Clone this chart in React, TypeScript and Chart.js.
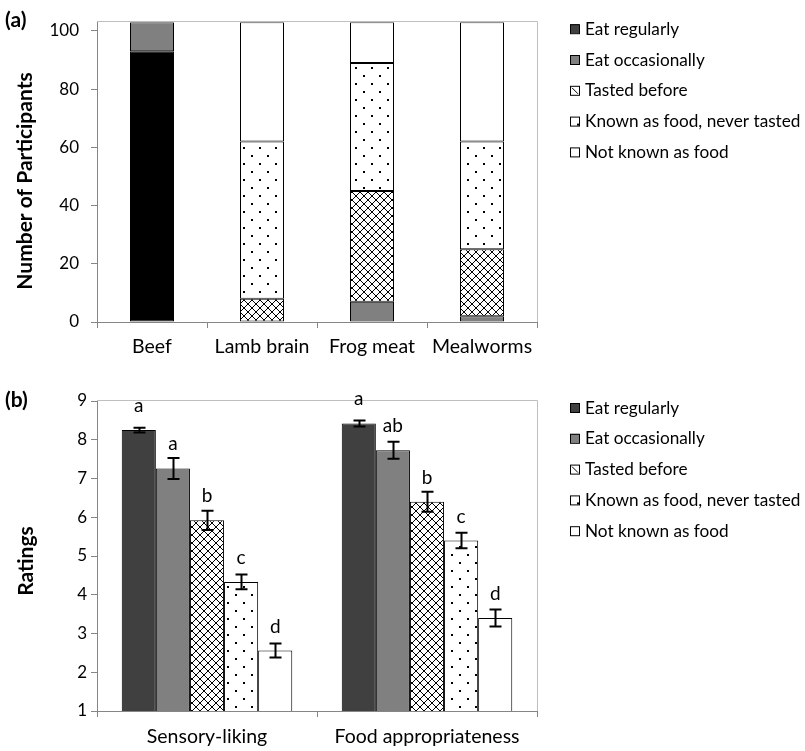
import React, { useEffect, useRef } from 'react';
import { Chart, registerables } from 'chart.js';

Chart.register(...registerables);

// ---------- Data: panel (a) ----------
const categoriesA = ['Beef', 'Lamb brain', 'Frog meat', 'Mealworms'];
const eatRegularlyA = [93, 0, 0, 0];
const eatOccasionallyA = [10, 0, 7, 2];
const tastedBeforeA = [0, 8, 38, 23];
const knownNeverTastedA = [0, 54, 44, 37];
const notKnownA = [0, 41, 14, 41];
const yTicksA = [0, 20, 40, 60, 80, 100];

// ---------- Data: panel (b) ----------
const categoriesB = ['Sensory-liking', 'Food appropriateness'];
const eatRegularlyB = [8.25, 8.42];
const eatOccasionallyB = [7.26, 7.73];
const tastedBeforeB = [5.92, 6.4];
const knownNeverTastedB = [4.33, 5.4];
const notKnownB = [2.56, 3.4];
const errRegularlyB = [0.06, 0.08];
const errOccasionallyB = [0.27, 0.22];
const errTastedB = [0.25, 0.26];
const errKnownB = [0.19, 0.2];
const errNotKnownB = [0.18, 0.22];
const lettersRegularlyB = ['a', 'a'];
const lettersOccasionallyB = ['a', 'ab'];
const lettersTastedB = ['b', 'b'];
const lettersKnownB = ['c', 'c'];
const lettersNotKnownB = ['d', 'd'];

const seriesLabels = [
  'Eat regularly',
  'Eat occasionally',
  'Tasted before',
  'Known as food, never tasted',
  'Not known as food',
];

const FONT = 'Lato, "Open Sans", sans-serif';
const TICK_SIZE = 17;
const CAT_SIZE = 19.5;
const LEGEND_SIZE = 17.2;
const TITLE_SIZE = 21;
const LETTER_SIZE = 19;
const AXIS_COLOR = '#868686';
const BORDER_COLOR = '#bfbfbf';

function makeCrossPattern(): CanvasPattern {
  const c = document.createElement('canvas');
  c.width = 8;
  c.height = 8;
  const g = c.getContext('2d')!;
  g.fillStyle = '#fff';
  g.fillRect(0, 0, 8, 8);
  g.fillStyle = '#000';
  for (let i = 0; i < 8; i++) {
    g.fillRect(i, i, 1, 1);
    g.fillRect(7 - i, i, 1, 1);
  }
  return g.createPattern(c, 'repeat')!;
}

function makeDotPattern(): CanvasPattern {
  const c = document.createElement('canvas');
  c.width = 16;
  c.height = 16;
  const g = c.getContext('2d')!;
  g.fillStyle = '#fff';
  g.fillRect(0, 0, 16, 16);
  g.fillStyle = '#000';
  g.fillRect(3, 3, 2, 2);
  g.fillRect(11, 11, 2, 2);
  return g.createPattern(c, 'repeat')!;
}

type LegendKind = 'solid' | 'tasted' | 'known' | 'none';

function legendPlugin(fills: string[], kinds: LegendKind[]) {
  return {
    id: 'customLegend',
    afterDraw(chart: any) {
      const { ctx, chartArea } = chart;
      const x0 = chartArea.right + 33;
      const y0 = chartArea.top + 2;
      ctx.save();
      seriesLabels.forEach((label, k) => {
        const y = y0 + k * 30.8;
        ctx.fillStyle = fills[k];
        ctx.fillRect(x0, y, 9, 9);
        ctx.strokeStyle = '#000';
        ctx.lineWidth = 1;
        ctx.strokeRect(x0 + 0.5, y + 0.5, 9, 9);
        if (kinds[k] === 'tasted') {
          ctx.beginPath();
          ctx.moveTo(x0 + 2, y + 2);
          ctx.lineTo(x0 + 8, y + 8);
          ctx.stroke();
        } else if (kinds[k] === 'known') {
          ctx.fillStyle = '#000';
          ctx.fillRect(x0 + 7, y + 7, 2, 2);
        }
        ctx.fillStyle = '#000';
        ctx.font = `${LEGEND_SIZE}px ${FONT}`;
        ctx.textAlign = 'left';
        ctx.textBaseline = 'middle';
        ctx.fillText(label, x0 + 15, y + 5);
      });
      ctx.restore();
    },
  };
}

function framePlugin(panel: string, panelY: number, title: string, titleX: number, titleY: number) {
  return {
    id: 'frameAndTitles',
    beforeDatasetsDraw(chart: any) {
      const { ctx, chartArea } = chart;
      ctx.save();
      ctx.strokeStyle = BORDER_COLOR;
      ctx.lineWidth = 1;
      ctx.beginPath();
      ctx.moveTo(chartArea.left, Math.round(chartArea.top) - 0.5);
      ctx.lineTo(Math.round(chartArea.right) + 0.5, Math.round(chartArea.top) - 0.5);
      ctx.lineTo(Math.round(chartArea.right) + 0.5, chartArea.bottom);
      ctx.stroke();
      ctx.restore();
    },
    afterDraw(chart: any) {
      const { ctx } = chart;
      ctx.save();
      ctx.fillStyle = '#000';
      ctx.font = `bold ${TITLE_SIZE}px ${FONT}`;
      ctx.textAlign = 'left';
      ctx.textBaseline = 'middle';
      ctx.fillText(panel, 5, panelY);
      ctx.translate(titleX, titleY);
      ctx.rotate(-Math.PI / 2);
      ctx.textAlign = 'center';
      ctx.fillText(title, 0, 0);
      ctx.restore();
    },
  };
}

const errorsB = [errRegularlyB, errOccasionallyB, errTastedB, errKnownB, errNotKnownB];
const lettersB = [lettersRegularlyB, lettersOccasionallyB, lettersTastedB, lettersKnownB, lettersNotKnownB];

const errorBarPlugin = {
  id: 'errorBars',
  afterDatasetsDraw(chart: any) {
    const { ctx } = chart;
    const ys = chart.scales.y;
    ctx.save();
    chart.data.datasets.forEach((ds: any, i: number) => {
      const meta = chart.getDatasetMeta(i);
      meta.data.forEach((bar: any, j: number) => {
        const v = ds.data[j];
        const e = errorsB[i][j];
        const x = Math.round(bar.x) + 0.5;
        const yTop = ys.getPixelForValue(v + e);
        const yBot = ys.getPixelForValue(v - e);
        ctx.strokeStyle = '#000';
        ctx.lineWidth = 2;
        ctx.beginPath();
        ctx.moveTo(x, yTop);
        ctx.lineTo(x, yBot);
        ctx.moveTo(x - 6, yTop);
        ctx.lineTo(x + 6, yTop);
        ctx.moveTo(x - 6, yBot);
        ctx.lineTo(x + 6, yBot);
        ctx.stroke();
        ctx.fillStyle = '#000';
        ctx.font = `${LETTER_SIZE}px ${FONT}`;
        ctx.textAlign = 'center';
        ctx.textBaseline = 'alphabetic';
        ctx.fillText(lettersB[i][j], bar.x, ys.getPixelForValue(v) - 18);
      });
    });
    ctx.restore();
  },
};

function axisCommon() {
  return {
    grid: { drawOnChartArea: false, drawTicks: true, tickLength: 6, color: AXIS_COLOR, lineWidth: 1 },
    border: { color: AXIS_COLOR, width: 1 },
  };
}

export default function App() {
  const refA = useRef<HTMLCanvasElement>(null);
  const refB = useRef<HTMLCanvasElement>(null);

  useEffect(() => {
    const cross = makeCrossPattern();
    const dots = makeDotPattern();

    const barBase = { borderColor: '#000', borderWidth: 1, borderSkipped: false };

    const chartA = new Chart(refA.current!, {
      type: 'bar',
      data: {
        labels: categoriesA,
        datasets: [
          { label: seriesLabels[0], data: eatRegularlyA, backgroundColor: '#000', ...barBase },
          { label: seriesLabels[1], data: eatOccasionallyA, backgroundColor: '#808080', ...barBase },
          { label: seriesLabels[2], data: tastedBeforeA, backgroundColor: cross, ...barBase },
          { label: seriesLabels[3], data: knownNeverTastedA, backgroundColor: dots, ...barBase },
          { label: seriesLabels[4], data: notKnownA, backgroundColor: '#fff', ...barBase },
        ] as any,
      },
      options: {
        responsive: false,
        animation: false,
        layout: { padding: { left: 0, top: 21, right: 268, bottom: 0 } },
        datasets: { bar: { barPercentage: 0.4, categoryPercentage: 1 } },
        plugins: { legend: { display: false }, tooltip: { enabled: false } },
        scales: {
          x: {
            stacked: true,
            ...axisCommon(),
            grid: { ...axisCommon().grid, offset: true },
            ticks: { color: '#000', font: { family: FONT, size: CAT_SIZE }, padding: 7, maxRotation: 0 },
            afterFit: (s: any) => { s.height = 53; },
          },
          y: {
            stacked: true,
            min: 0,
            max: 103,
            ...axisCommon(),
            ticks: { color: '#000', font: { family: FONT, size: TICK_SIZE }, padding: 12, stepSize: 20 },
            afterBuildTicks: (s: any) => { s.ticks = yTicksA.map((v) => ({ value: v })); },
            afterFit: (s: any) => { s.width = 97; },
          },
        },
      } as any,
      plugins: [
        framePlugin('(a)', 20, 'Number of Participants', 25, 181),
        legendPlugin(['#404040', '#808080', '#fff', '#fff', '#fff'], ['solid', 'solid', 'tasted', 'known', 'none']),
      ],
    });

    const chartB = new Chart(refB.current!, {
      type: 'bar',
      data: {
        labels: categoriesB,
        datasets: [
          { label: seriesLabels[0], data: eatRegularlyB, backgroundColor: '#404040', ...barBase },
          { label: seriesLabels[1], data: eatOccasionallyB, backgroundColor: '#808080', ...barBase },
          { label: seriesLabels[2], data: tastedBeforeB, backgroundColor: cross, ...barBase },
          { label: seriesLabels[3], data: knownNeverTastedB, backgroundColor: dots, ...barBase },
          { label: seriesLabels[4], data: notKnownB, backgroundColor: '#fff', ...barBase },
        ] as any,
      },
      options: {
        responsive: false,
        animation: false,
        layout: { padding: { left: 0, top: 26, right: 268, bottom: 0 } },
        datasets: { bar: { barPercentage: 1, categoryPercentage: 0.775 } },
        plugins: { legend: { display: false }, tooltip: { enabled: false } },
        scales: {
          x: {
            ...axisCommon(),
            grid: { ...axisCommon().grid, offset: true },
            ticks: { color: '#000', font: { family: FONT, size: CAT_SIZE }, padding: 8, maxRotation: 0 },
            afterFit: (s: any) => { s.height = 40; },
          },
          y: {
            min: 1,
            max: 9,
            ...axisCommon(),
            ticks: { color: '#000', font: { family: FONT, size: TICK_SIZE }, padding: 4, stepSize: 1 },
            afterFit: (s: any) => { s.width = 97; },
          },
        },
      } as any,
      plugins: [
        framePlugin('(b)', 25, 'Ratings', 26, 186),
        legendPlugin(['#404040', '#808080', '#fff', '#fff', '#fff'], ['solid', 'solid', 'tasted', 'known', 'none']),
        errorBarPlugin,
      ],
    });

    return () => {
      chartA.destroy();
      chartB.destroy();
    };
  }, []);

  return (
    <div style={{ position: 'absolute', left: 0, top: 0, width: 805, height: 751, background: '#fff' }}>
      <canvas ref={refA} width={805} height={375} style={{ display: 'block' }} />
      <canvas ref={refB} width={805} height={376} style={{ display: 'block' }} />
    </div>
  );
}
